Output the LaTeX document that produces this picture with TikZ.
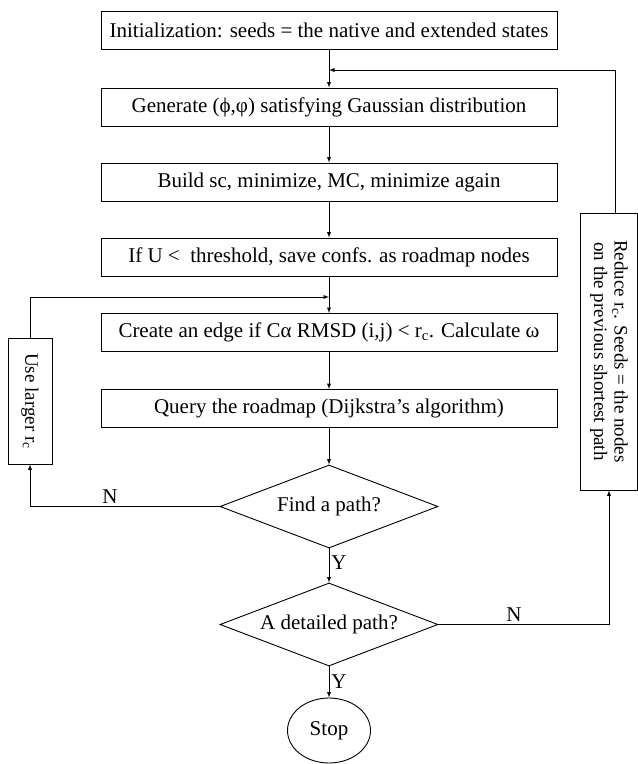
\documentclass[tikz,border=0pt]{standalone}
\usepackage{fontspec}
\setmainfont{Liberation Serif}
\usepackage{tikz}
\usetikzlibrary{arrows,shapes.geometric}

\begin{document}
\begin{tikzpicture}[x=1pt,y=-1pt,line width=0.9pt,
  font=\fontsize{21}{23}\selectfont,
  box/.style={draw, anchor=center, inner sep=0pt, minimum width=456pt, minimum height=38pt},
  test/.style={draw, diamond, anchor=center, inner sep=0pt, aspect=2.6, minimum width=218pt, minimum height=83pt},
  sidebox/.style={draw, anchor=center, rotate=-90, inner sep=0pt, align=center, font=\fontsize{19}{20.5}\selectfont}]
\useasboundingbox (0,0) rectangle (638,764);

\node[box] (1) at (329,30.5)
{Initialization: seeds = the native and extended states};

\node[box] (2) at (329,107)
{Generate (ϕ,φ) satisfying Gaussian distribution};

\node[box] (3) at (329,182)
{Build sc, minimize, MC, minimize again};

\node[box] (4) at (329,257)
{If U < \ threshold, save confs. as roadmap nodes};

\node[box] (5) at (329,332.5)
{Create an edge if Cα RMSD (i,j) < r\textsubscript{c}. Calculate ω};

\node[box] (6) at (329,408.5)
{Query the roadmap (Dijkstra’s algorithm)};

\node[test] (7) at (329,506.5)
{Find a path?};

\node[test] (8) at (329,624.5)
{A detailed path?};

\node[draw, ellipse, anchor=center, inner sep=0pt, minimum width=83pt, minimum height=65pt] (9) at (329,730.5)
{Stop};

\node[sidebox, minimum width=126pt, minimum height=44pt] (10) at (30,401)
{Use larger r\textsubscript{c}};

\node[sidebox, minimum width=277pt, minimum height=57pt] (11) at (609,351.5)
{Reduce r\textsubscript{c}. Seeds = the nodes\\on the previous shortest path};

\coordinate (a) at (329,70);
\coordinate (b) at (329,297);

\draw[->,>=latex] (1) -- (2);
\draw[->,>=latex] (2) -- (3);
\draw[->,>=latex] (3) -- (4);
\draw[->,>=latex] (4) -- (5);
\draw[->,>=latex] (5) -- (6);
\draw[->,>=latex] (6) -- (7);
\draw[->,>=latex] (7) -- (8);
\draw[->,>=latex] (8) -- (9);

\draw[->,>=latex] (7.west) -| (10.east);
\draw[->,>=latex] (10.west) |- (b);

\draw[->,>=latex] (8.east) -| (11.east);
\draw[->,>=latex] (11.west -| 615,0) |- (a);

\node[anchor=center] (12) at (110,497) {N};
\node[anchor=center] (13) at (514,615) {N};
\node[anchor=west, inner sep=2pt] (14) at (329,563) {Y};
\node[anchor=west, inner sep=2pt] (15) at (329,682) {Y};
\end{tikzpicture}
\end{document}
